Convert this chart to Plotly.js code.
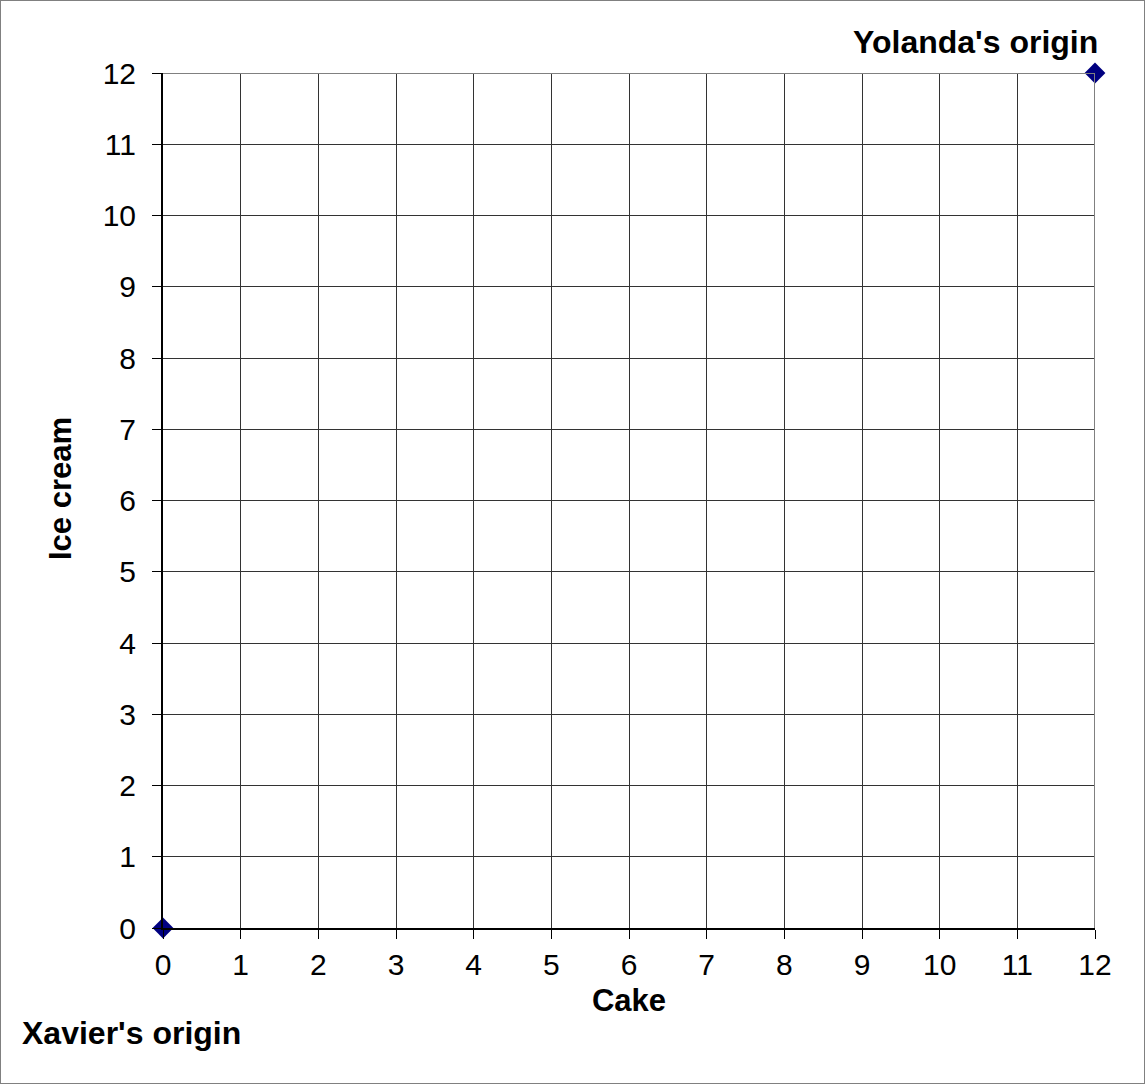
<!DOCTYPE html>
<html>
<head>
<meta charset="utf-8">
<script src="https://cdn.plot.ly/plotly-3.0.1.min.js"></script>
<style>
html,body{margin:0;padding:0;background:#fff;}
#chart{position:absolute;left:0;top:0;width:1143px;height:1082px;border:1px solid #808080;}
</style>
</head>
<body>
<div id="chart"></div>
<script>
// Data
const pointNames = ["Xavier's origin", "Yolanda's origin"];
const cake = [0, 12];
const iceCream = [0, 12];
const tickValues = [0,1,2,3,4,5,6,7,8,9,10,11,12];
const xTitle = "Cake";
const yTitle = "Ice cream";

const FONT = "Liberation Sans, Arial, sans-serif";

const trace = {
  x: cake, y: iceCream, text: pointNames,
  type: 'scatter', mode: 'markers',
  marker: {symbol: 'diamond', size: 16, color: '#000080'},
  cliponaxis: false, hoverinfo: 'text'
};

const layout = {
  width: 1143, height: 1082,
  margin: {l: 162, r: 49, t: 72, b: 155},
  paper_bgcolor: '#ffffff', plot_bgcolor: '#ffffff',
  showlegend: false,
  font: {family: FONT, color: '#000'},
  xaxis: {
    range: [0, 12], tickvals: tickValues, ticktext: tickValues.map(String),
    showgrid: true, gridcolor: '#333', gridwidth: 1,
    showline: true, linecolor: '#000', linewidth: 2,
    ticks: 'outside', ticklen: 9, tickcolor: '#000', tickwidth: 1,
    tickfont: {size: 30, family: FONT},
    zeroline: false, fixedrange: true,
    title: {text: xTitle, font: {size: 31, family: FONT, weight: 'bold'}, standoff: 9}
  },
  yaxis: {
    range: [0, 12], tickvals: tickValues, ticktext: tickValues.map(String),
    showgrid: true, gridcolor: '#333', gridwidth: 1,
    showline: true, linecolor: '#000', linewidth: 2,
    ticks: 'outside', ticklen: 9, tickcolor: '#000', tickwidth: 1,
    tickfont: {size: 30, family: FONT},
    ticklabelstandoff: 10,
    zeroline: false, fixedrange: true
  },
  shapes: [
    {type: 'line', xref: 'x', yref: 'y', x0: 0, x1: 12, y0: 12, y1: 12, line: {color: '#808080', width: 2}},
    {type: 'line', xref: 'x', yref: 'y', x0: 12, x1: 12, y0: 0, y1: 12, line: {color: '#808080', width: 2}}
  ],
  annotations: [
    {text: pointNames[1], xref: 'paper', yref: 'paper', x: 1.0054, y: 1.036,
     xanchor: 'right', yanchor: 'middle', showarrow: false,
     font: {size: 32, family: FONT, weight: 'bold', color: '#000'}},
    {text: pointNames[0], xref: 'paper', yref: 'paper', x: -0.1534, y: -0.1228,
     xanchor: 'left', yanchor: 'middle', showarrow: false,
     font: {size: 32, family: FONT, weight: 'bold', color: '#000'}},
    {text: yTitle, xref: 'paper', yref: 'paper', x: -0.1094, y: 0.5135,
     xanchor: 'center', yanchor: 'middle', textangle: -90, showarrow: false,
     font: {size: 31, family: FONT, weight: 'bold', color: '#000'}}
  ]
};

Plotly.newPlot('chart', [trace], layout, {displayModeBar: false, staticPlot: true});
</script>
</body>
</html>
